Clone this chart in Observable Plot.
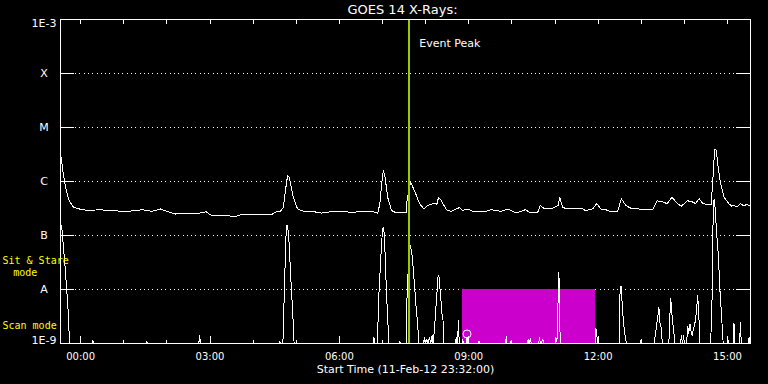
<!DOCTYPE html>
<html><head><meta charset="utf-8">
<script src="https://cdn.jsdelivr.net/npm/d3@7"></script>
<script src="https://cdn.jsdelivr.net/npm/@observablehq/plot@0.6"></script>
<style>html,body{margin:0;padding:0;background:#000;} #chart{width:768px;height:384px;overflow:hidden}
#chart svg path, #chart svg line, #chart svg rect{shape-rendering:crispEdges}</style>
</head><body><div id="chart"></div>
<script>
// Time axis in hours after 12-Feb-12 00:00 (start 11-Feb-12 23:32, 16 h span)
const timeRange = [-28 / 60, 15 + 32 / 60];
const tickHours = [0, 3, 6, 9, 12, 15];
const tickLabels = ["00:00", "03:00", "06:00", "09:00", "12:00", "15:00"];
const hourTicks = [0, 1, 2, 3, 4, 5, 6, 7, 8, 9, 10, 11, 12, 13, 14, 15];
const fluxLevels = [1e-9, 1e-8, 1e-7, 1e-6, 1e-5, 1e-4, 1e-3];
const fluxLabels = ["1E-9", "A", "B", "C", "M", "X", "1E-3"];
const eventPeakHour = 7.61;
const scanWindow = [8.85, 11.95];     // magenta block, A-class band
const scanBand = [1e-9, 1e-8];
const markers = [[8.96, 1.5e-9]];

// GOES 14 long channel (1-8 A), [hour, W/m^2]
const longChannel = [
[-0.45,2.8e-6],[-0.41,1.5e-6],[-0.35,7.8e-7],[-0.27,4.5e-7],[-0.16,3.3e-7],[0.04,3.0e-7],[0.20,2.9e-7],[0.42,3.0e-7],
[0.70,2.9e-7],[0.97,2.8e-7],[1.20,2.85e-7],[1.43,3.0e-7],[1.66,2.8e-7],[1.85,3.1e-7],[2.00,2.8e-7],[2.20,2.5e-7],
[2.45,2.55e-7],[2.66,2.5e-7],[2.91,2.75e-7],[3.05,2.3e-7],[3.30,2.35e-7],[3.47,2.3e-7],[3.54,2.2e-7],[3.78,2.5e-7],
[4.10,2.45e-7],[4.43,2.45e-7],[4.51,2.7e-7],[4.63,2.8e-7],[4.70,3.3e-7],[4.76,7.8e-7],[4.80,1.3e-6],[4.84,1.17e-6],
[4.93,5.1e-7],[5.03,3.1e-7],[5.17,2.8e-7],[5.36,2.8e-7],[5.59,2.6e-7],[5.80,2.75e-7],[5.98,2.8e-7],[6.28,2.7e-7],
[6.50,2.75e-7],[6.75,2.8e-7],[6.89,2.6e-7],[6.94,3.9e-7],[6.98,9.1e-7],[7.02,1.6e-6],[7.06,1.2e-6],[7.12,5.1e-7],
[7.21,2.9e-7],[7.29,2.7e-7],[7.55,2.7e-7],[7.57,4.5e-7],[7.65,9.8e-7],[7.74,6.8e-7],[7.86,3.9e-7],[7.96,3.1e-7],
[8.05,3.6e-7],[8.21,4.0e-7],[8.26,3.8e-7],[8.30,5.1e-7],[8.36,4.5e-7],[8.48,3.0e-7],[8.59,2.8e-7],[8.79,3.3e-7],
[8.86,2.9e-7],[8.98,3.1e-7],[9.10,2.8e-7],[9.37,2.75e-7],[9.52,3.0e-7],[9.75,2.8e-7],[9.91,3.1e-7],[10.10,2.6e-7],
[10.31,3.0e-7],[10.41,2.7e-7],[10.60,2.7e-7],[10.66,3.6e-7],[10.76,3.1e-7],[10.91,3.1e-7],[11.07,3.6e-7],[11.11,5.1e-7],
[11.18,3.3e-7],[11.30,3.1e-7],[11.64,3.1e-7],[11.71,2.9e-7],[11.87,3.1e-7],[11.97,3.9e-7],[12.06,3.1e-7],[12.18,3.0e-7],
[12.29,2.75e-7],[12.45,2.75e-7],[12.54,4.8e-7],[12.64,3.6e-7],[12.79,3.1e-7],[12.91,3.2e-7],[12.99,3.0e-7],[13.26,3.0e-7],
[13.37,4.4e-7],[13.49,4.2e-7],[13.60,3.9e-7],[13.71,5.1e-7],[13.84,3.9e-7],[13.93,3.5e-7],[14.07,4.4e-7],[14.18,4.2e-7],
[14.26,3.9e-7],[14.34,4.8e-7],[14.42,4.0e-7],[14.53,3.7e-7],[14.62,3.7e-7],[14.67,1.4e-6],[14.70,3.9e-6],[14.74,3.8e-6],
[14.78,1.9e-6],[14.84,9.1e-7],[14.92,5.1e-7],[15.03,3.9e-7],[15.10,3.5e-7],[15.15,3.6e-7],[15.23,3.4e-7],[15.30,3.9e-7],
[15.38,3.5e-7],[15.44,3.8e-7],[15.50,3.6e-7]
];

// GOES 14 short channel (0.5-4 A), [hour, W/m^2], floor at 1E-9
const shortChannel = [
[-0.44,1.55e-7],[-0.36,2.6e-8],[-0.32,9.5e-9],[-0.28,3.1e-9],[-0.26,1e-9],
[0.27,1e-9],[0.285,1.15e-9],[0.30,1e-9],[1.51,1e-9],[1.53,1.1e-9],[1.55,1e-9],
[2.74,1e-9],[2.76,1.4e-9],[2.78,1e-9],
[4.60,1e-9],[4.62,1.1e-9],[4.64,1e-9],[4.69,1e-9],[4.74,2.6e-8],[4.77,1.5e-7],[4.80,1.55e-7],[4.83,8.1e-8],
[4.88,1.3e-8],[4.92,3.5e-9],[4.95,1e-9],
[6.78,1e-9],[6.80,1.3e-9],[6.82,1e-9],[6.88,1e-9],[6.92,9.5e-9],[6.97,5.2e-8],[7.00,1.3e-7],[7.03,1.4e-7],
[7.06,4.6e-8],[7.09,9.5e-9],[7.13,2.0e-9],[7.15,1e-9],
[7.38,1e-9],[7.40,1.1e-9],[7.42,1e-9],
[7.55,1e-9],[7.57,8.3e-9],[7.61,4e-8],[7.65,6.5e-8],[7.69,4.0e-8],[7.74,1.3e-8],[7.78,4.7e-9],[7.82,2.0e-9],[7.84,1e-9],
[7.95,1e-9],[7.97,1.3e-9],[7.99,1e-9],[8.03,1.2e-9],[8.05,1e-9],[8.09,1.3e-9],[8.12,1e-9],[8.15,1.4e-9],[8.17,1e-9],
[8.20,1.6e-9],[8.25,6.3e-9],[8.29,1.8e-8],[8.31,1.75e-8],[8.35,7.2e-9],[8.38,3.5e-9],[8.40,3.2e-9],[8.42,1e-9],
[8.69,1e-9],[8.71,1.3e-9],[8.73,1e-9],[8.74,1e-9],[8.76,2.7e-9],[8.78,1e-9],
[8.84,1e-9],[8.86,1.2e-9],[8.88,1e-9],[8.94,1e-9],[8.96,1.3e-9],[8.98,1e-9],
[9.22,1e-9],[9.24,1.1e-9],[9.26,1e-9],[9.85,1e-9],[9.87,1.35e-9],[9.89,1e-9],[9.96,1e-9],[9.98,1.1e-9],[10.00,1e-9],
[10.36,1e-9],[10.38,1.2e-9],[10.40,1e-9],[10.43,1.25e-9],[10.45,1e-9],
[10.62,1e-9],[10.64,1.3e-9],[10.66,1e-9],[10.72,1.2e-9],[10.74,1e-9],
[11.00,1e-9],[11.02,1.3e-9],[11.04,1.1e-9],[11.06,1.5e-9],[11.08,2.1e-8],[11.10,1.4e-8],[11.12,1e-9],
[11.93,1e-9],[11.95,1.9e-9],[11.97,1.4e-9],[11.99,1e-9],
[12.49,1e-9],[12.51,1.1e-8],[12.54,1.15e-8],[12.56,4.7e-9],[12.60,2e-9],[12.63,1.3e-9],[12.66,1e-9],
[12.98,1e-9],[13.00,1.2e-9],[13.02,1e-9],
[13.30,1e-9],[13.35,2e-9],[13.38,3e-9],[13.41,4.7e-9],[13.43,2.5e-9],[13.46,2e-9],[13.49,1e-9],
[13.64,1e-9],[13.68,6.8e-9],[13.70,5e-9],[13.72,2.7e-9],[13.75,1.8e-9],[13.78,1e-9],
[13.91,1e-9],[13.93,1.4e-9],[13.96,1e-9],[13.98,1.4e-9],[14.00,1e-9],
[14.05,1e-9],[14.08,2.1e-9],[14.10,1.5e-9],[14.13,2.3e-9],[14.16,1.6e-9],[14.18,1.4e-9],[14.22,2e-9],[14.26,2.7e-9],
[14.31,7.8e-9],[14.34,2.7e-9],[14.36,1e-9],
[14.61,1e-9],[14.65,1.1e-8],[14.67,4.5e-7],[14.70,4.6e-7],[14.75,1.07e-7],[14.79,4e-8],[14.82,1.1e-8],[14.86,3.5e-9],[14.90,1e-9],
[15.00,1e-9],[15.01,1.2e-9],[15.03,1e-9],[15.13,1e-9],[15.15,2.4e-9],[15.17,1e-9],[15.28,1e-9],[15.30,2.4e-9],[15.32,1e-9],
[15.48,1e-9],[15.50,1.3e-9],[15.52,1e-9]
];

const W = 768, H = 384, mL = 60, mR = 18, mT = 19, mB = 41;
const pw = W - mL - mR, ph = H - mT - mB;
const levels = fluxLevels.map((v, i) => ({v, label: fluxLabels[i]}));
const inner = levels.slice(1, -1);
const ends = levels.filter((d, i) => i === 0 || i === levels.length - 1);
const white = "#ffffff";

const chart = Plot.plot({
  width: W, height: H,
  marginLeft: mL, marginRight: mR, marginTop: mT, marginBottom: mB,
  style: {background: "#000", color: white, fontFamily: "DejaVu Sans"},
  x: {domain: timeRange, axis: null},
  y: {type: "log", domain: [fluxLevels[0], fluxLevels[fluxLevels.length - 1]], axis: null},
  marks: [
    // dotted grid and inward y ticks
    Plot.ruleY(inner, {y: "v", stroke: white, strokeDasharray: "1,3.3", insetLeft: 15, insetRight: 15}),
    Plot.ruleY(inner, {y: "v", stroke: white, insetRight: pw - 14}),
    Plot.ruleY(inner, {y: "v", stroke: white, insetLeft: pw - 14}),
    // scan window block
    Plot.rect([scanWindow], {x1: d => d[0], x2: d => d[1], y1: scanBand[0], y2: scanBand[1], fill: "#cc00cc"}),
    // data
    Plot.line(shortChannel, {x: d => d[0], y: d => d[1], stroke: white, strokeWidth: 1}),
    Plot.line(longChannel, {x: d => d[0], y: d => d[1], stroke: white, strokeWidth: 1}),
    Plot.dot(markers, {x: d => d[0], y: d => d[1], r: 4, stroke: white, fill: "none", strokeWidth: 1}),
    // event peak
    Plot.ruleX([eventPeakHour], {stroke: "#99cc00", strokeWidth: 2}),
    Plot.text(["Event Peak"], {x: eventPeakHour, frameAnchor: "top", text: d => d, dx: 10.5, dy: 27.5,
      textAnchor: "start", lineAnchor: "bottom", fill: white, fontSize: 11}),
    // x ticks (top every hour, bottom minor/major)
    Plot.ruleX(hourTicks, {stroke: white, insetBottom: ph - 5}),
    Plot.ruleX(hourTicks.filter(h => h % 3 !== 0), {stroke: white, insetTop: ph - 3}),
    Plot.ruleX(tickHours, {stroke: white, insetTop: ph - 7}),
    Plot.frame({stroke: white}),
    // x tick labels
    Plot.text(tickHours, {x: d => d, text: (d, i) => tickLabels[i], frameAnchor: "bottom", dy: 16,
      lineAnchor: "bottom", fill: white, fontSize: 10}),
    // y labels
    Plot.text(inner, {y: "v", text: "label", frameAnchor: "left", dx: -16.5, textAnchor: "middle",
      lineAnchor: "middle", fill: white, fontSize: 11}),
    Plot.text(ends.slice(0, 1), {y: "v", text: "label", frameAnchor: "left", dx: -16.5, dy: -3, textAnchor: "middle",
      lineAnchor: "middle", fill: white, fontSize: 11}),
    Plot.text(ends.slice(1), {y: "v", text: "label", frameAnchor: "left", dx: -16.5, dy: 4, textAnchor: "middle",
      lineAnchor: "middle", fill: white, fontSize: 11}),
    // title and x label
    Plot.text(["GOES 14 X-Rays:"], {text: d => d, frameAnchor: "top", dx: -3, dy: -5.5, lineAnchor: "bottom",
      fill: white, fontSize: 13}),
    Plot.text(["Start Time (11-Feb-12 23:32:00)"], {text: d => d, frameAnchor: "bottom", dy: 29, lineAnchor: "bottom",
      fill: white, fontSize: 11}),
    // mode labels
    Plot.text(["Sit & Stare"], {text: d => d, frameAnchor: "bottom-left", dx: -58, dy: -80, textAnchor: "start",
      lineAnchor: "bottom", fill: "#ffff00", fontSize: 10, fontFamily: "DejaVu Sans Mono"}),
    Plot.text(["mode"], {text: d => d, frameAnchor: "bottom-left", dx: -47.3, dy: -68, textAnchor: "start",
      lineAnchor: "bottom", fill: "#ffff00", fontSize: 10, fontFamily: "DejaVu Sans Mono"}),
    Plot.text(["Scan mode"], {text: d => d, frameAnchor: "bottom-left", dx: -58, dy: -15, textAnchor: "start",
      lineAnchor: "bottom", fill: "#ffff00", fontSize: 10, fontFamily: "DejaVu Sans Mono"})
  ]
});
document.getElementById("chart").appendChild(chart);
</script></body></html>
